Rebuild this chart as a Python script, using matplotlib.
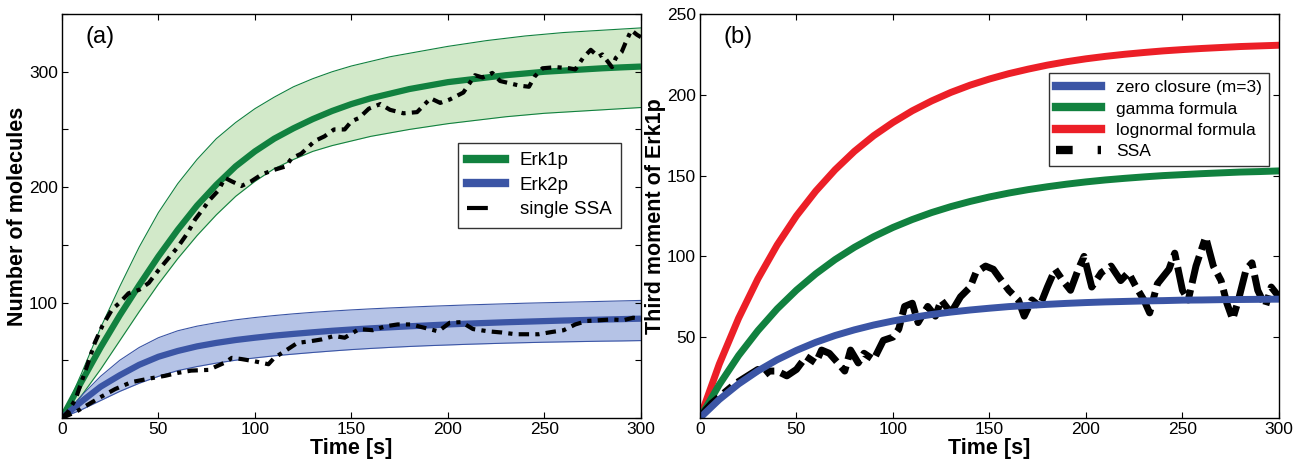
import numpy as np
import matplotlib
matplotlib.use("Agg")
import matplotlib.pyplot as plt
from matplotlib.lines import Line2D

# ---- panel (a): mean +- band, every 10 s ----
t_grid = list(range(0, 301, 10))

erk1_mean = [0, 31, 61, 89, 115, 140, 163, 184, 202, 218, 231, 242, 251, 259, 266, 272,
             277, 281, 285, 288, 291, 293, 295, 297, 298.5, 300, 301, 302, 303, 303.8, 304.5]
erk1_upper = [0, 38, 78, 114, 148, 178, 203, 224, 242, 256, 268, 278, 287, 294, 300, 305,
              309, 313, 316, 319, 322, 324.5, 327, 329, 331, 332.5, 334, 335, 336, 337, 338]
erk1_lower = [0, 19, 42, 67, 92, 116, 138, 158, 176, 192, 205, 216, 224, 231, 236, 240,
              244, 247, 250, 252.5, 255, 257, 259, 261, 262.5, 264, 265, 266, 267, 268, 269]

erk2_mean = [0, 14, 27, 37, 46, 53, 58, 62, 65, 67.5, 69.5, 71.3, 72.8, 74.2, 75.5, 76.6,
             77.6, 78.5, 79.4, 80.2, 81, 81.7, 82.3, 82.9, 83.4, 83.9, 84.4, 84.8, 85.2, 85.6, 86]
erk2_upper = [0, 19, 36, 50, 61, 69.5, 75.5, 79.5, 82.5, 85, 87, 88.7, 90.2, 91.5, 92.6, 93.6,
              94.5, 95.3, 96, 96.7, 97.3, 97.9, 98.4, 98.9, 99.4, 99.8, 100.2, 100.6, 101, 101.4, 101.8]
erk2_lower = [0, 7, 15, 23, 30, 36, 41, 44.5, 47.5, 50, 52, 53.8, 55.3, 56.7, 58, 59.2,
              60.2, 61.1, 61.9, 62.6, 63.2, 63.8, 64.3, 64.8, 65.2, 65.6, 65.9, 66.2, 66.5, 66.7, 67]

# single SSA trajectories (panel a)
ssa1_t = [0, 3, 7, 13, 17, 21, 26, 30, 34.5, 40, 45, 50, 55, 60, 65, 69, 74, 76, 81, 84.5,
          88, 93, 98, 103.5, 110, 116, 119, 124, 131, 136, 141, 146.5, 150, 154, 159, 165,
          170, 177, 184, 191, 196, 201, 208, 214, 218, 223, 227, 232, 237, 242, 245, 249,
          256, 263, 266, 270, 274, 278, 280, 285, 287, 290, 292, 295, 298, 300]
ssa1_v = [0, 5, 16, 45, 65, 80, 94, 100, 108, 111, 117, 128, 138, 148, 160, 172, 183, 188,
          197, 208, 205, 201, 205, 211, 215, 218, 225, 229, 240, 244, 250, 250, 257, 260,
          268, 272, 267, 264, 265, 277, 273, 276, 282, 297, 295, 299, 292, 290, 288, 287,
          296, 303, 304, 303, 302, 312, 319, 313, 315, 304, 312, 317, 325, 336, 332, 330]

ssa2_t = [0, 7, 14, 20, 27.6, 36, 45, 53.5, 60, 67, 76, 84.5, 88, 93, 100, 107, 110, 117,
          122, 129, 134.5, 141, 146.5, 149, 154, 161, 168, 174, 181, 188, 195, 201, 207,
          213, 221, 228, 235, 241, 247, 254, 260, 266, 272, 279, 285, 291, 296, 300]
ssa2_v = [0, 5, 12, 18, 25, 31, 34, 36.5, 39, 41, 41.6, 48, 52, 51, 49, 46.5, 52, 59.5,
          65, 66.5, 68, 71, 69.5, 72, 77, 76, 79.5, 81, 81, 78, 75, 82.5, 83, 77, 75, 74,
          72.5, 72.5, 72.5, 74.5, 76, 81, 84, 84.7, 85.3, 84.7, 86.8, 86]

# ---- panel (b): third moment of Erk1p ----
zero_closure = [0, 11.4, 21.0, 29.1, 36.0, 41.8, 46.8, 51.0, 54.5, 57.5, 60.0, 62.2, 64.0,
                65.5, 66.8, 67.9, 68.9, 69.6, 70.3, 70.9, 71.4, 71.8, 72.1, 72.4, 72.6,
                72.9, 73.0, 73.2, 73.3, 73.4, 73.5]
gamma_formula = [0, 20.6, 38.6, 54.0, 67.5, 79.1, 89.2, 98.0, 105.6, 112.2, 117.9, 122.8,
                 127.1, 130.8, 134.0, 136.8, 139.2, 141.3, 143.1, 144.7, 146.1, 147.3,
                 148.3, 149.2, 150.0, 150.6, 151.2, 151.7, 152.2, 152.5, 152.9]
lognormal_formula = [0, 33.3, 61.7, 86.1, 107.1, 125.1, 140.4, 153.6, 165.0, 174.7, 182.9,
                     190.1, 196.2, 201.5, 206.0, 209.8, 213.1, 215.9, 218.4, 220.5, 222.3,
                     223.8, 225.1, 226.2, 227.2, 228.0, 228.7, 229.3, 229.9, 230.3, 230.7]

ssa3_t = [0, 3, 6, 10, 14, 18, 22, 26, 30, 33, 36, 40, 45, 50, 55, 60, 63, 67, 70, 75, 78,
          82, 85, 90, 95, 100, 103, 106, 110, 113, 118, 122, 125, 130, 135, 140, 143, 148,
          152, 155, 160, 165, 168, 172, 176, 180, 184, 188, 192, 196, 199, 203, 208, 213,
          218, 222, 226, 230, 233, 237, 243, 246, 250, 253, 257, 262, 266, 270, 273, 276,
          279, 283, 286, 289, 293, 296, 300]
ssa3_v = [0, 5, 9, 13, 17, 21, 24, 27, 30, 26, 29, 29, 26, 30, 38, 34, 42, 40, 36, 29, 42,
          34, 40, 36, 48, 50, 55, 69, 71, 59, 69, 63, 73, 65, 75, 81, 90, 94, 92, 87, 79,
          73, 63, 73, 69, 81, 92, 85, 79, 92, 100, 81, 90, 94, 85, 90, 81, 73, 65, 83, 92,
          102, 79, 73, 94, 112, 94, 85, 71, 61, 73, 92, 96, 79, 69, 81, 75]

GREEN = "#11813f"
GREEN_FILL = "#d2e9c9"
BLUE = "#3b55a5"
BLUE_FILL = "#b5c3e6"
RED = "#ec1f27"

plt.rcParams["font.family"] = ["Liberation Sans", "DejaVu Sans"]

fig = plt.figure(figsize=(13.04, 4.61), dpi=100)
ax1 = fig.add_axes([0.0475, 0.0935, 0.444, 0.876])
ax2 = fig.add_axes([0.5368, 0.0935, 0.444, 0.876])

for ax in (ax1, ax2):
    ax.tick_params(direction="in", top=True, right=True, length=4, width=0.8,
                   labelsize=12.5, pad=3)
    for sp in ax.spines.values():
        sp.set_linewidth(1.0)
    ax.set_xlim(0, 300)
    ax.set_xticks(range(0, 301, 50))
    ax.set_xlabel("Time [s]", fontsize=15.5, fontweight="bold", labelpad=1)
    ax.yaxis.set_label_coords(-0.058, 0.5)

# panel (a)
ax1.fill_between(t_grid, erk1_lower, erk1_upper, color=GREEN_FILL, lw=0)
ax1.plot(t_grid, erk1_upper, color=GREEN, lw=0.8)
ax1.plot(t_grid, erk1_lower, color=GREEN, lw=0.8)
ax1.fill_between(t_grid, erk2_lower, erk2_upper, color=BLUE_FILL, lw=0)
ax1.plot(t_grid, erk2_upper, color=BLUE, lw=0.8)
ax1.plot(t_grid, erk2_lower, color=BLUE, lw=0.8)
ax1.plot(t_grid, erk1_mean, color=GREEN, lw=4.5, solid_capstyle="butt")
ax1.plot(t_grid, erk2_mean, color=BLUE, lw=4.5, solid_capstyle="butt")
ssa_style = dict(color="black", lw=3, linestyle=(0, (2.5, 1.5, 1, 1.5)))
ax1.plot(ssa1_t, ssa1_v, **ssa_style)
ax1.plot(ssa2_t, ssa2_v, **ssa_style)

ax1.set_ylim(0, 350)
ax1.set_yticks(range(0, 351, 50))
ax1.set_yticklabels(["", "", "100", "", "200", "", "300", ""])
ax1.set_ylabel("Number of molecules", fontsize=15.5, fontweight="bold")
ax1.text(0.04, 0.97, "(a)", transform=ax1.transAxes, fontsize=17, va="top")

h1 = [Line2D([], [], color=GREEN, lw=6),
      Line2D([], [], color=BLUE, lw=6),
      Line2D([], [], color="black", lw=3, linestyle=(0, (5, 5, 1, 1)))]
leg1 = ax1.legend(h1, ["Erk1p", "Erk2p", "single SSA"], loc="upper right",
                  bbox_to_anchor=(0.982, 0.705), fontsize=13.5, frameon=True,
                  fancybox=False, edgecolor="black", handlelength=2.0,
                  borderpad=0.5, labelspacing=0.4, handletextpad=0.8)
leg1.get_frame().set_linewidth(1.0)

# panel (b)
ax2.plot(t_grid, lognormal_formula, color=RED, lw=5)
ax2.plot(t_grid, gamma_formula, color=GREEN, lw=5)
ax2.plot(ssa3_t, ssa3_v, color="black", lw=5, linestyle=(0, (4, 1, 1.5, 1)))
ax2.plot(t_grid, zero_closure, color=BLUE, lw=5)

ax2.set_ylim(0, 250)
ax2.set_yticks(range(50, 251, 50))
ax2.set_ylabel("Third moment of Erk1p", fontsize=15.5, fontweight="bold")
ax2.text(0.04, 0.97, "(b)", transform=ax2.transAxes, fontsize=17, va="top")

h2 = [Line2D([], [], color=BLUE, lw=6),
      Line2D([], [], color=GREEN, lw=6),
      Line2D([], [], color=RED, lw=6),
      Line2D([], [], color="black", lw=6, linestyle=(0, (2, 3, 0.5, 3)))]
leg2 = ax2.legend(h2, ["zero closure (m=3)", "gamma formula", "lognormal formula", "SSA"],
                  loc="upper right", bbox_to_anchor=(0.998, 0.875), fontsize=12.5,
                  frameon=True, fancybox=False, edgecolor="black", handlelength=2.6,
                  borderpad=0.4, labelspacing=0.35, handletextpad=0.9)
leg2.get_frame().set_linewidth(1.0)

fig.savefig("out.png", dpi=100)
